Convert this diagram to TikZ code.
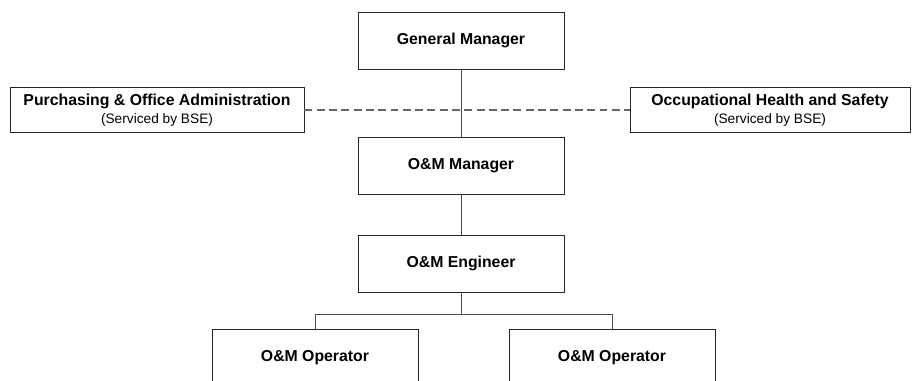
\documentclass[tikz,border=0pt]{standalone}
\usepackage{fontspec}
\setmainfont{Liberation Sans}
\usepackage{tikz}
\usetikzlibrary{calc}

\begin{document}
\begin{tikzpicture}[x=0.02cm, y=-0.02cm,
    box/.style={draw=black!85, line width=0.5pt, fill=white, align=center, inner sep=0pt,
      minimum width=4.12cm, minimum height=1.14cm, font=\fontsize{9}{11}\selectfont\bfseries},
    side/.style={box, minimum height=0.9cm},
    link/.style={draw=black!70, line width=0.5pt}]
    \useasboundingbox (0,0) rectangle (912,380);
    \clip (0,0) rectangle (912,380);
    % main chain
    \node[box] (gm) at (461,40.5) {General Manager};
    \node[box] (omm) at (461,166) {O\&M Manager};
    \node[box] (ome) at (461,263.5) {O\&M Engineer};
    % serviced by BSE
    \node[side, minimum width=5.88cm] (pur) at (157,110) {Purchasing \& Office Administration\\[-1pt]
      {\fontsize{7.8}{9}\selectfont\mdseries (Serviced by BSE)}};
    \node[side, minimum width=5.6cm] (ohs) at (770,110) {Occupational Health and Safety\\[-1pt]
      {\fontsize{7.8}{9}\selectfont\mdseries (Serviced by BSE)}};
    \draw[link, draw=black!60, line width=0.8pt, dash pattern=on 4.5pt off 2.5pt] (pur.east) -- (pur.east -| ohs.west);
    \draw[link] (gm.south) -- (omm.north);
    \draw[link] (omm.south) -- (ome.north);
    % operators
    \node[box] (op1) at (315,357.5) {O\&M Operator};
    \node[box] (op2) at (612,357.5) {O\&M Operator};
    \coordinate (fork) at (461,314);
    \draw[link] (ome.south) -- (fork);
    \draw[link] (op1.north) |- (fork) -| (op2.north);
\end{tikzpicture}
\end{document}
